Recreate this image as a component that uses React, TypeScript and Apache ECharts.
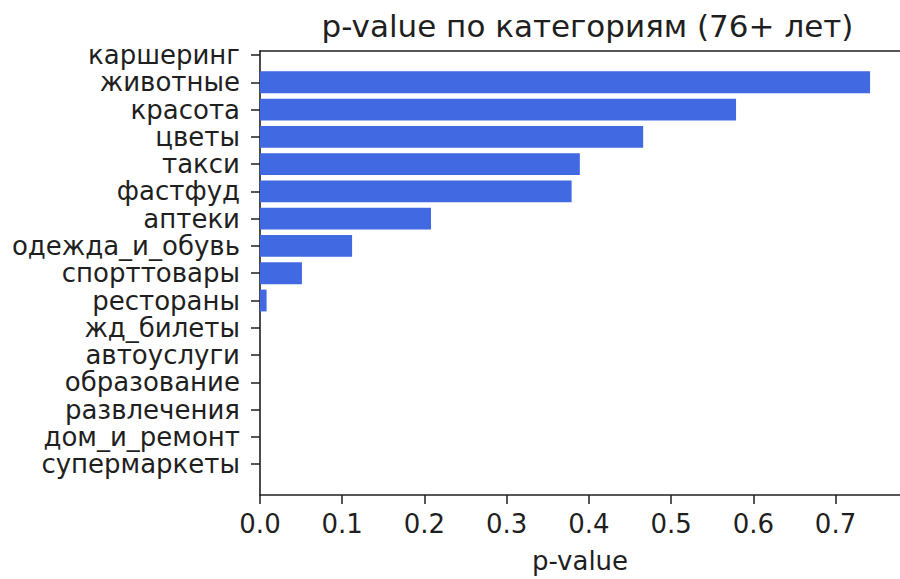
import React, { useEffect, useRef } from "react";
import * as echarts from "echarts";

const categories = [
  "каршеринг",
  "животные",
  "красота",
  "цветы",
  "такси",
  "фастфуд",
  "аптеки",
  "одежда_и_обувь",
  "спорттовары",
  "рестораны",
  "жд_билеты",
  "автоуслуги",
  "образование",
  "развлечения",
  "дом_и_ремонт",
  "супермаркеты",
];
const pValues = [0, 0.742, 0.579, 0.466, 0.389, 0.379, 0.208, 0.112, 0.051, 0.008, 0, 0, 0, 0, 0, 0];
const titleText = "p-value по категориям (76+ лет)";
const xAxisName = "p-value";
const xMax = 0.7784;

const FONT = "DejaVu Sans";
const INK = "#1f1f1f";

export default function App() {
  const ref = useRef<HTMLDivElement>(null);
  useEffect(() => {
    if (!ref.current) return;
    const chart = echarts.init(ref.current, null, { renderer: "svg" });
    const left = 260;
    const width = 645;
    const step = 27.28;
    const firstCenter = 55;
    chart.setOption({
      animation: false,
      backgroundColor: "#ffffff",
      title: {
        text: titleText,
        left: 582.5,
        top: 5,
        textAlign: "center",
        textStyle: { fontFamily: FONT, fontSize: 31, fontWeight: "normal", color: INK },
      },
      grid: [
        { left, width, top: firstCenter - step / 2, height: step * categories.length },
        { left, width, top: 51, height: 446 },
      ],
      xAxis: [
        { gridIndex: 0, type: "value", min: 0, max: xMax, show: false },
        {
          gridIndex: 1,
          type: "value",
          position: "bottom",
          min: 0,
          max: xMax,
          interval: 0.1,
          name: xAxisName,
          nameLocation: "middle",
          nameGap: 53,
          nameTextStyle: { fontFamily: FONT, fontSize: 26, color: INK },
          axisLine: { show: true, onZero: false, lineStyle: { color: INK, width: 1.6 } },
          axisTick: { show: true, length: 9, lineStyle: { color: INK, width: 1.5 } },
          axisLabel: {
            margin: 16,
            fontFamily: FONT,
            fontSize: 26,
            color: INK,
            showMaxLabel: false,
            formatter: (v: number) => {
              const r = Math.round(v * 10);
              return Math.abs(v * 10 - r) < 1e-6 ? (r / 10).toFixed(1) : "";
            },
          },
          splitLine: { show: false },
        },
        {
          gridIndex: 1,
          type: "value",
          position: "top",
          min: 0,
          max: xMax,
          axisLine: { show: true, onZero: false, lineStyle: { color: INK, width: 1.6 } },
          axisTick: { show: false },
          axisLabel: { show: false },
          splitLine: { show: false },
        },
      ],
      yAxis: [
        {
          gridIndex: 0,
          type: "category",
          data: categories,
          inverse: true,
          axisLine: { show: false },
          axisTick: {
            show: true,
            interval: 0,
            alignWithLabel: true,
            length: 9,
            lineStyle: { color: INK, width: 1.5 },
          },
          axisLabel: { interval: 0, margin: 20, fontFamily: FONT, fontSize: 26, color: INK },
          splitLine: { show: false },
        },
        {
          gridIndex: 1,
          type: "value",
          min: 0,
          max: 1,
          axisLine: { show: true, onZero: false, lineStyle: { color: INK, width: 1.6 } },
          axisTick: { show: false },
          axisLabel: { show: false },
          splitLine: { show: false },
        },
      ],
      series: [
        {
          type: "bar",
          xAxisIndex: 0,
          yAxisIndex: 0,
          data: pValues,
          barCategoryGap: "20%",
          itemStyle: { color: "#4169E1" },
        },
      ],
    });
    return () => chart.dispose();
  }, []);
  return (
    <div
      ref={ref}
      style={{ position: "fixed", left: 0, top: 0, width: 900, height: 579 }}
    />
  );
}
